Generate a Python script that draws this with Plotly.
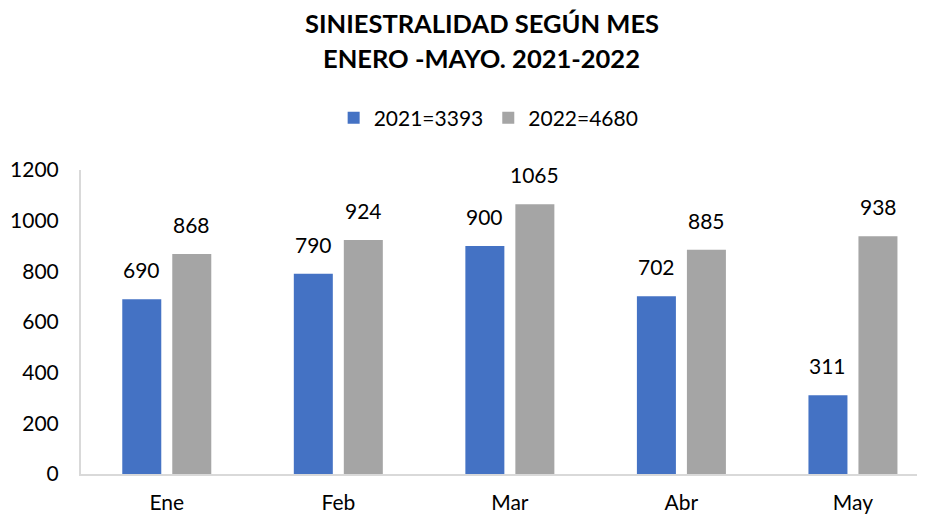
import plotly.graph_objects as go

# ==========================================================
# Data
# ==========================================================

meses = ["Ene", "Feb", "Mar", "Abr", "May"]
valores_2021 = [690, 790, 900, 702, 311]
valores_2022 = [868, 924, 1065, 885, 938]
nombre_2021 = "2021=3393"
nombre_2022 = "2022=4680"
titulo = ["SINIESTRALIDAD SEGÚN MES", "ENERO -MAYO. 2021-2022"]

AZUL = "#4472C4"
GRIS = "#A5A5A5"
FUENTE = "Lato"

fig = go.Figure()

fig.add_trace(go.Bar(x=meses, y=valores_2021, name=nombre_2021,
                     marker=dict(color=AZUL, line=dict(width=0))))
fig.add_trace(go.Bar(x=meses, y=valores_2022, name=nombre_2022,
                     marker=dict(color=GRIS, line=dict(width=0))))

# data labels above bars
for i, (a, b) in enumerate(zip(valores_2021, valores_2022)):
    for dx, v in ((-0.146, a), (0.146, b)):
        fig.add_annotation(x=i + dx, y=v, text=str(v), showarrow=False,
                           yanchor="bottom", yshift=15,
                           font=dict(family=FUENTE, size=21, color="#000000"))

# two-line title
for linea, ypos in zip(titulo, (1.484, 1.368)):
    fig.add_annotation(x=0.475, y=ypos, xref="paper", yref="paper",
                       text=f"<b>{linea}</b>", showarrow=False,
                       xanchor="center", yanchor="middle",
                       font=dict(family=FUENTE, size=25.5, color="#000000"))

# page body adds 8px margin: plot area offsets compensate
fig.update_layout(
    width=925, height=515,
    paper_bgcolor="white", plot_bgcolor="white",
    font=dict(family=FUENTE, size=20, color="#000000"),
    margin=dict(l=73, r=8, t=162, b=49, autoexpand=False),
    barmode="group", bargap=0.417, bargroupgap=0.22,
    showlegend=True,
    legend=dict(orientation="h", x=0.483, xanchor="center", y=1.171,
                yanchor="middle", font=dict(family=FUENTE, size=21),
                itemwidth=30, traceorder="normal"),
    xaxis=dict(range=[-0.5, 4.42], showline=True, linecolor="#D9D9D9",
               linewidth=2, ticks="", showgrid=False, zeroline=False,
               ticklabelstandoff=9, tickfont=dict(size=21)),
    yaxis=dict(range=[0, 1200], dtick=200, showline=True, linecolor="#D9D9D9",
               linewidth=2, showgrid=False, zeroline=False, ticks="",
               ticklabelstandoff=16, tickfont=dict(size=21)),
)

fig.write_html("out.html")
